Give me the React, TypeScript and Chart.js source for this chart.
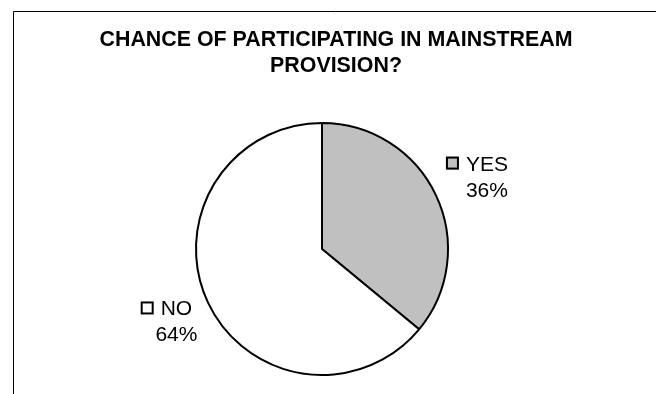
import React, { useEffect, useRef } from "react";
import { Chart, registerables } from "chart.js";

Chart.register(...registerables);

const titleLines = ["CHANCE OF PARTICIPATING IN MAINSTREAM", "PROVISION?"];
const categories = ["YES", "NO"];
const values = [36, 64];
const sliceColors = ["#C0C0C0", "#FFFFFF"];

const W = 656;
const H = 394;
const FONT = '"Liberation Sans", Arial, sans-serif';

export default function App() {
  const ref = useRef<HTMLCanvasElement>(null);

  useEffect(() => {
    if (!ref.current) return;
    const total = values.reduce((a, b) => a + b, 0);

    const decor = {
      id: "decor",
      beforeDraw(chart: any) {
        const ctx = chart.ctx;
        ctx.save();
        ctx.fillStyle = "#ffffff";
        ctx.fillRect(0, 0, W, H);
        // chart frame (extends past right/bottom edges)
        ctx.strokeStyle = "#000000";
        ctx.lineWidth = 1;
        ctx.beginPath();
        ctx.moveTo(13.5, H + 2);
        ctx.lineTo(13.5, 11.5);
        ctx.lineTo(W + 2, 11.5);
        ctx.stroke();
        ctx.restore();
      },
      afterDatasetsDraw(chart: any) {
        const ctx = chart.ctx;
        ctx.save();
        // title
        ctx.fillStyle = "#000000";
        ctx.font = `bold 21.4px ${FONT}`;
        ctx.textAlign = "center";
        ctx.textBaseline = "alphabetic";
        const tx = (13 + 659) / 2;
        titleLines.forEach((t, i) => ctx.fillText(t, tx, 45.5 + i * 26.5));

        // data labels with legend keys
        ctx.font = `21px ${FONT}`;
        const meta = chart.getDatasetMeta(0);
        meta.data.forEach((el: any, i: number) => {
          const p = el.getProps(["x", "y", "startAngle", "endAngle", "outerRadius"], true);
          const mid = (p.startAngle + p.endAngle) / 2;
          const ux = Math.cos(mid);
          const uy = Math.sin(mid);
          const t1 = categories[i];
          const t2 = Math.round((values[i] / total) * 100) + "%";
          const w1 = ctx.measureText(t1).width;
          const w2 = ctx.measureText(t2).width;
          const box = 13;
          const gap = 7;
          const left = Math.min(-w1 / 2 - gap - box, -w2 / 2);
          const right = Math.max(w1 / 2, w2 / 2);
          const halfH = 20.5;
          const target = p.outerRadius + 8.5;
          let d = 0;
          let X = 0;
          let Y = 0;
          for (; d < 400; d += 0.25) {
            const bcx = p.x + ux * d;
            const bcy = p.y + uy * d;
            X = bcx - (left + right) / 2;
            Y = bcy;
            const rx0 = X + left;
            const rx1 = X + right;
            const ry0 = Y - halfH;
            const ry1 = Y + halfH;
            const dx = Math.max(rx0 - p.x, 0, p.x - rx1);
            const dy = Math.max(ry0 - p.y, 0, p.y - ry1);
            if (Math.hypot(dx, dy) >= target) break;
          }
          const base1 = Y - halfH + 15;
          const base2 = base1 + 26;
          ctx.textAlign = "center";
          ctx.fillStyle = "#000000";
          ctx.fillText(t1, X, base1);
          ctx.fillText(t2, X, base2);
          // legend key
          const bx = X - w1 / 2 - gap - box;
          const by = base1 - 14;
          ctx.fillStyle = sliceColors[i];
          ctx.fillRect(bx, by, box, box);
          ctx.strokeStyle = "#000000";
          ctx.lineWidth = 2;
          ctx.strokeRect(bx + 1, by + 1, box - 2, box - 2);
        });
        ctx.restore();
      },
    };

    const chart = new Chart(ref.current, {
      type: "pie",
      data: {
        labels: categories,
        datasets: [
          {
            data: values,
            backgroundColor: sliceColors,
            borderColor: "#000000",
            borderWidth: 2,
          },
        ],
      },
      options: {
        responsive: false,
        animation: false,
        layout: { padding: { left: 195, right: 207, top: 122, bottom: 18 } },
        plugins: {
          legend: { display: false },
          tooltip: { enabled: false },
          title: { display: false },
        },
      },
      plugins: [decor],
    });
    return () => chart.destroy();
  }, []);

  return (
    <div style={{ position: "fixed", left: 0, top: 0, width: W, height: H, background: "#fff" }}>
      <canvas ref={ref} width={W} height={H} style={{ width: W, height: H, display: "block" }} />
    </div>
  );
}
